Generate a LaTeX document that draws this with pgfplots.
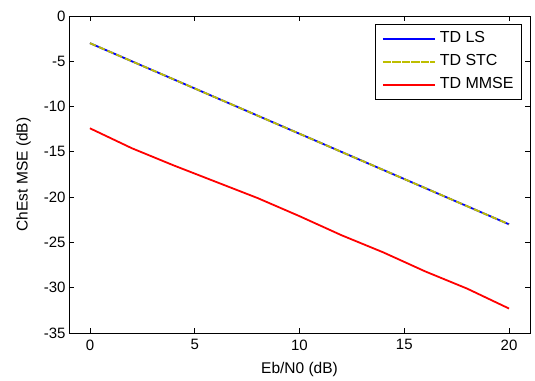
\documentclass[border=0pt]{standalone}
\usepackage{fontspec}
\setmainfont{Liberation Sans}
\usepackage{pgfplots}
\pgfplotsset{compat=1.18}
\definecolor{myyellow}{RGB}{190,190,0}
\newcommand\tkfont{\fontsize{15}{18}\selectfont}
\newcommand\chfont{\fontsize{15.5}{18}\selectfont}
\newcommand\lgfont{\fontsize{16}{19}\selectfont}
\begin{document}
\begin{tikzpicture}
\begin{axis}[
  scale only axis,
  width=461pt, height=317pt,
  xmin=-1, xmax=21, ymin=-35, ymax=0,
  xtick={0,5,10,15,20}, ytick={-35,-30,-25,-20,-15,-10,-5,0},
  tick align=inside, tick pos=both,
  major tick length=5pt,
  axis line style={line width=0.9pt},
  every tick/.style={black, line width=0.8pt},
  /pgf/number format/assume math mode=true,
  xticklabel style={font=\tkfont, yshift=-3pt},
  yticklabel style={font=\tkfont},
  xlabel={Eb/N0 (dB)}, ylabel={ChEst MSE (dB)},
  xlabel style={font=\chfont, yshift=-5pt},
  ylabel style={font=\chfont, yshift=6pt},
  legend style={at={(1,1)}, anchor=north east, xshift=-8pt, yshift=-8pt,
    font=\lgfont, draw=black, line width=0.9pt,
    inner xsep=7pt, inner ysep=5.5pt, row sep=5pt, column sep=3pt,
    nodes={inner sep=1pt, text height=12pt, text depth=4pt},
    cells={anchor=west}},
  legend image code/.code={\path (-2pt,0pt) -- (50pt,0pt);\draw[#1, line width=1.8pt] (0pt,0pt) -- (50pt,0pt);},
]
\addplot[blue, line width=1.8pt] coordinates {
(0,-3.0) (2,-5.0) (4,-7.0) (6,-9.0) (8,-11.0) (10,-13.0) (12,-15.0) (14,-17.0) (16,-19.0) (18,-21.0) (20,-23.0)};
\addlegendentry{TD LS}
\addplot[myyellow, line width=1.8pt, dash pattern=on 6.5pt off 3pt] coordinates {
(0,-3.0) (2,-5.0) (4,-7.0) (6,-9.0) (8,-11.0) (10,-13.0) (12,-15.0) (14,-17.0) (16,-19.0) (18,-21.0) (20,-23.0)};
\addlegendentry{TD STC}
\addplot[red, line width=1.8pt] coordinates {
(0,-12.4) (2,-14.6) (4,-16.5) (6,-18.3) (8,-20.1) (10,-22.1) (12,-24.2) (14,-26.1) (16,-28.2) (18,-30.1) (20,-32.3)};
\addlegendentry{TD MMSE}
\end{axis}
\pgfresetboundingbox
\path ([shift={(-69pt,-47pt)}]current axis.south west) rectangle ([shift={(5pt,16pt)}]current axis.north east);
\end{tikzpicture}
\end{document}
